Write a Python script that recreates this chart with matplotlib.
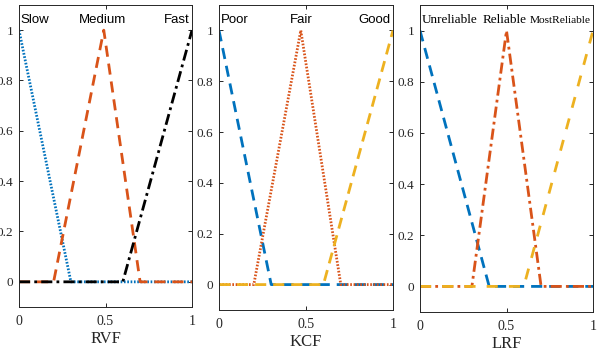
import matplotlib
matplotlib.use("Agg")
import matplotlib.pyplot as plt

# ---- data (membership function breakpoints) ----
rvf_names = ["Slow", "Medium", "Fast"]
rvf_slow_x = [0, 0.3, 1];            rvf_slow_y = [1, 0, 0]
rvf_med_x = [0, 0.2, 0.49, 0.7, 1];  rvf_med_y = [0, 0, 1, 0, 0]
rvf_fast_x = [0, 0.6, 1];            rvf_fast_y = [0, 0, 1]

kcf_names = ["Poor", "Fair", "Good"]
kcf_poor_x = [0, 0.3, 1];            kcf_poor_y = [1, 0, 0]
kcf_fair_x = [0, 0.2, 0.47, 0.7, 1]; kcf_fair_y = [0, 0, 1, 0, 0]
kcf_good_x = [0, 0.6, 1];            kcf_good_y = [0, 0, 1]

lrf_names = ["Unreliable", "Reliable", "MostReliable"]
lrf_unrel_x = [0, 0.4, 1];           lrf_unrel_y = [1, 0, 0]
lrf_rel_x = [0, 0.3, 0.5, 0.7, 1];   lrf_rel_y = [0, 0, 1, 0, 0]
lrf_most_x = [0, 0.6, 1];            lrf_most_y = [0, 0, 1]

x_ticks = [0, 0.5, 1]
x_ticklabels = ["0", "0.5", "1"]
y_ticks = [0, 0.2, 0.4, 0.6, 0.8, 1]
y_ticklabels = ["0", "0.2", "0.4", "0.6", "0.8", "1"]
x_labels = ["RVF", "KCF", "LRF"]

BLUE = "#0072BD"
ORANGE = "#D95319"
YELLOW = "#EDB120"
BLACK = "#000000"
SPINE = "#262626"

W, H = 601, 354
fig = plt.figure(figsize=(W / 100, H / 100), dpi=100)

def rect(l, r, t, b):
    return [l / W, 1 - b / H, (r - l) / W, (b - t) / H]

positions = [rect(19, 192, 5, 307), rect(219, 393, 5, 310), rect(420, 593, 5, 312)]

serif = "Liberation Serif"
sans = "Liberation Sans"

def style_axes(ax, xlabel):
    ax.set_xlim(0, 1)
    ax.set_ylim(-0.1, 1.1)
    ax.set_xticks(x_ticks)
    ax.set_xticklabels(x_ticklabels, family=serif, fontsize=10)
    ax.set_yticks(y_ticks)
    ax.set_yticklabels(y_ticklabels, family=serif, fontsize=9.5)
    ax.tick_params(direction="in", length=3, width=0.7, top=True, right=True,
                   colors=SPINE)
    ax.tick_params(axis="y", pad=4)
    ax.tick_params(axis="x", pad=6)
    for s in ax.spines.values():
        s.set_color(SPINE)
        s.set_linewidth(0.7)
    ax.set_xlabel(xlabel, family=serif, fontsize=12, labelpad=2, color=SPINE)

lw = 2.0
TY = 1.04

# Panel 1: RVF
ax1 = fig.add_axes(positions[0])
ax1.plot(rvf_slow_x, rvf_slow_y, color=BLUE, lw=lw, linestyle=(0, (0.6, 0.6)))
ax1.plot(rvf_med_x, rvf_med_y, color=ORANGE, lw=lw, linestyle=(0, (4, 2.5)))
ax1.plot(rvf_fast_x, rvf_fast_y, color=BLACK, lw=lw, linestyle=(0, (4, 1.5, 1, 1.5)))
style_axes(ax1, x_labels[0])
ax1.text(0.01, TY, rvf_names[0], family=sans, fontsize=9.5, ha="left", va="center")
ax1.text(0.48, TY, rvf_names[1], family=sans, fontsize=9.5, ha="center", va="center")
ax1.text(0.985, TY, rvf_names[2], family=sans, fontsize=9.5, ha="right", va="center")

# Panel 2: KCF
ax2 = fig.add_axes(positions[1])
ax2.plot(kcf_poor_x, kcf_poor_y, color=BLUE, lw=lw, linestyle=(0, (4, 2.5)))
ax2.plot(kcf_fair_x, kcf_fair_y, color=ORANGE, lw=lw, linestyle=(0, (0.6, 0.6)))
ax2.plot(kcf_good_x, kcf_good_y, color=YELLOW, lw=lw, linestyle=(0, (4, 2.5)))
style_axes(ax2, x_labels[1])
ax2.text(0.01, TY, kcf_names[0], family=sans, fontsize=9.5, ha="left", va="center")
ax2.text(0.47, TY, kcf_names[1], family=sans, fontsize=9.5, ha="center", va="center")
ax2.text(0.985, TY, kcf_names[2], family=sans, fontsize=9.5, ha="right", va="center")

# Panel 3: LRF
ax3 = fig.add_axes(positions[2])
ax3.plot(lrf_unrel_x, lrf_unrel_y, color=BLUE, lw=lw, linestyle=(0, (4, 2.5)))
ax3.plot(lrf_rel_x, lrf_rel_y, color=ORANGE, lw=lw, linestyle=(0, (4, 1.5, 1, 1.5)))
ax3.plot(lrf_most_x, lrf_most_y, color=YELLOW, lw=lw, linestyle=(0, (4, 4)))
style_axes(ax3, x_labels[2])
ax3.text(0.01, TY, lrf_names[0], family=serif, fontsize=9.5, ha="left", va="center")
ax3.text(0.49, TY, lrf_names[1], family=serif, fontsize=9.5, ha="center", va="center")
ax3.text(0.985, TY, lrf_names[2], family=serif, fontsize=8.2, ha="right", va="center")

fig.savefig("out.png", dpi=100)
